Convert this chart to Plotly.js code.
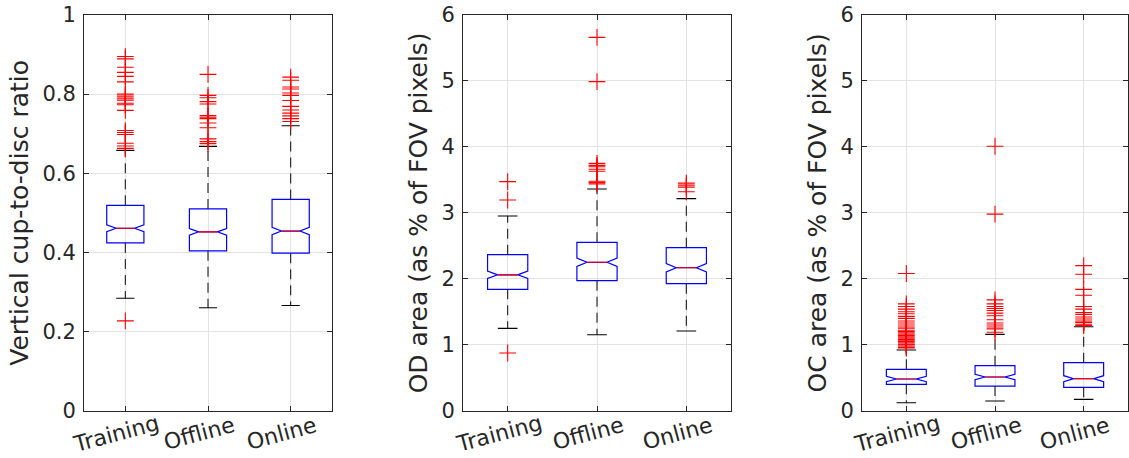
<!DOCTYPE html>
<html>
<head>
<meta charset="utf-8">
<script src="https://cdn.plot.ly/plotly-3.0.1.min.js"></script>
<style>html,body{margin:0;padding:0;background:#fff;}#chart{width:1129px;height:458px;}</style>
</head>
<body>
<div id="chart"></div>
<script>
// ---------- DATA ----------
const categories = ['Training', 'Offline', 'Online'];
const positions = [1, 2, 3];

// Panel 1: vertical cup-to-disc ratio
const cdrQ1 = [0.424, 0.404, 0.398];
const cdrMedian = [0.461, 0.452, 0.454];
const cdrQ3 = [0.519, 0.510, 0.534];
const cdrLowerWhisker = [0.284, 0.260, 0.266];
const cdrUpperWhisker = [0.658, 0.668, 0.720];
const cdrNotch = [0.0085, 0.0085, 0.0093];
const cdrOutTraining = [0.895, 0.889, 0.868, 0.855, 0.845, 0.831, 0.800, 0.795, 0.790, 0.785, 0.777, 0.773, 0.759, 0.708, 0.703, 0.698, 0.676, 0.669, 0.663, 0.227];
const cdrOutOffline = [0.850, 0.797, 0.791, 0.781, 0.775, 0.746, 0.742, 0.738, 0.727, 0.715, 0.687, 0.680, 0.675];
const cdrOutOnline = [0.843, 0.835, 0.818, 0.813, 0.803, 0.797, 0.784, 0.769, 0.760, 0.752, 0.745, 0.738, 0.731];

// Panel 2: OD area
const odQ1 = [1.841, 1.971, 1.926];
const odMedian = [2.060, 2.250, 2.168];
const odQ3 = [2.366, 2.553, 2.472];
const odLowerWhisker = [1.249, 1.152, 1.208];
const odUpperWhisker = [2.952, 3.362, 3.215];
const odNotch = [0.056, 0.063, 0.063];
const odOutTraining = [3.473, 3.195, 0.875];
const odOutOffline = [5.66, 4.99, 3.75, 3.72, 3.70, 3.66, 3.63, 3.48, 3.46, 3.44];
const odOutOnline = [3.45, 3.42, 3.39, 3.32];

// Panel 3: OC area
const ocQ1 = [0.400, 0.374, 0.355];
const ocMedian = [0.481, 0.511, 0.486];
const ocQ3 = [0.627, 0.683, 0.728];
const ocLowerWhisker = [0.121, 0.147, 0.172];
const ocUpperWhisker = [0.920, 1.158, 1.274];
const ocNotch = [0.040, 0.040, 0.045];
const ocOutTraining = [2.08, 1.62, 1.58, 1.54, 1.50, 1.47, 1.43, 1.40, 1.36, 1.33, 1.30, 1.27, 1.25, 1.22, 1.20, 1.18, 1.16, 1.14, 1.12, 1.10, 1.08, 1.06, 1.05, 1.03, 1.01, 1.00, 0.98, 0.96, 0.95];
const ocOutOffline = [4.01, 2.98, 1.68, 1.62, 1.58, 1.55, 1.52, 1.48, 1.44, 1.38, 1.33, 1.30, 1.27, 1.24, 1.19];
const ocOutOnline = [2.20, 2.07, 1.84, 1.75, 1.58, 1.54, 1.49, 1.46, 1.42, 1.39, 1.36, 1.34, 1.31, 1.29];

const yTitles = ['Vertical cup-to-disc ratio', 'OD area (as % of FOV pixels)', 'OC area (as % of FOV pixels)'];

// ---------- BUILD ----------
const BOXW = 0.45, CAPW = 0.22, NOTCHW = 0.25;
const txtColor = '#262626';
const font = 'DejaVu Sans, Liberation Sans, sans-serif';

const panels = [
  {q1: cdrQ1, med: cdrMedian, q3: cdrQ3, lo: cdrLowerWhisker, up: cdrUpperWhisker, notch: cdrNotch, outs: [cdrOutTraining, cdrOutOffline, cdrOutOnline]},
  {q1: odQ1, med: odMedian, q3: odQ3, lo: odLowerWhisker, up: odUpperWhisker, notch: odNotch, outs: [odOutTraining, odOutOffline, odOutOnline]},
  {q1: ocQ1, med: ocMedian, q3: ocQ3, lo: ocLowerWhisker, up: ocUpperWhisker, notch: ocNotch, outs: [ocOutTraining, ocOutOffline, ocOutOnline]}
];

const traces = [];
panels.forEach((p, i) => {
  const xa = 'x' + (i === 0 ? '' : i + 1);
  const ya = 'y' + (i === 0 ? '' : i + 1);
  // whiskers (dashed)
  const wx = [], wy = [];
  positions.forEach((c, k) => {
    wx.push(c, c, null, c, c, null);
    wy.push(p.q3[k], p.up[k], null, p.q1[k], p.lo[k], null);
  });
  traces.push({type: 'scatter', mode: 'lines', x: wx, y: wy, xaxis: xa, yaxis: ya,
    line: {color: '#1a1a1a', width: 1.1, dash: '10px,6px'}, hoverinfo: 'skip'});
  // caps
  const cx = [], cy = [];
  positions.forEach((c, k) => {
    cx.push(c - CAPW / 2, c + CAPW / 2, null, c - CAPW / 2, c + CAPW / 2, null);
    cy.push(p.up[k], p.up[k], null, p.lo[k], p.lo[k], null);
  });
  traces.push({type: 'scatter', mode: 'lines', x: cx, y: cy, xaxis: xa, yaxis: ya,
    line: {color: '#000', width: 1.1}, hoverinfo: 'skip'});
  // notched box
  traces.push({type: 'box', x: positions, q1: p.q1, median: p.med, q3: p.q3,
    lowerfence: p.q1, upperfence: p.q3, notchspan: p.notch, notched: true, notchwidth: NOTCHW,
    width: BOXW, whiskerwidth: 0, boxpoints: false, xaxis: xa, yaxis: ya,
    line: {color: '#0000ff', width: 1.2}, fillcolor: 'rgba(0,0,0,0)'});
  // red median
  const mx = [], my = [];
  const inner = BOXW / 2 * (1 - 2 * NOTCHW);
  positions.forEach((c, k) => {
    mx.push(c - inner, c + inner, null);
    my.push(p.med[k], p.med[k], null);
  });
  traces.push({type: 'scatter', mode: 'lines', x: mx, y: my, xaxis: xa, yaxis: ya,
    line: {color: '#ff0000', width: 1.1}, hoverinfo: 'skip'});
  // outliers
  const ox = [], oy = [];
  p.outs.forEach((arr, k) => arr.forEach(v => { ox.push(positions[k]); oy.push(v); }));
  traces.push({type: 'scatter', mode: 'markers', x: ox, y: oy, xaxis: xa, yaxis: ya,
    marker: {symbol: 'cross-thin', size: 12, color: '#ff0000', line: {color: '#ff0000', width: 1.1}}});
});

const xDomains = [[84 / 1129, 332 / 1129], [463 / 1129, 731 / 1129], [862 / 1129, 1128 / 1129]];
const yDomain = [1 - 410.7 / 458, 1 - 15 / 458];
const yRanges = [[0, 1], [0, 6], [0, 6]];
const yDticks = [0.2, 1, 1];

const layout = {
  width: 1129, height: 458,
  margin: {l: 0, r: 0, t: 0, b: 0},
  paper_bgcolor: '#fff', plot_bgcolor: '#fff',
  showlegend: false,
  font: {family: font, color: txtColor, size: 21},
  annotations: []
};

for (let i = 0; i < 3; i++) {
  const sfx = i === 0 ? '' : String(i + 1);
  layout['xaxis' + sfx] = {
    domain: xDomains[i], anchor: 'y' + sfx, range: [0.5, 3.5],
    tickvals: positions, ticktext: categories, showticklabels: false,
    ticks: 'inside', ticklen: 5, tickcolor: txtColor, mirror: 'ticks',
    showline: true, linecolor: txtColor, linewidth: 1,
    showgrid: true, gridcolor: '#e3e3e3', gridwidth: 1, zeroline: false, fixedrange: true
  };
  layout['yaxis' + sfx] = {
    domain: yDomain, anchor: 'x' + sfx, range: yRanges[i], dtick: yDticks[i], tick0: 0,
    ticks: 'inside', ticklen: 5, tickcolor: txtColor, mirror: 'ticks',
    showline: true, linecolor: txtColor, linewidth: 1,
    showgrid: true, gridcolor: '#e3e3e3', gridwidth: 1, zeroline: false, fixedrange: true,
    tickfont: {size: 21, color: txtColor, family: font}, ticklabelstandoff: 3,
    title: {text: yTitles[i], font: {size: 25, color: txtColor, family: font}, standoff: 6}
  };
  categories.forEach((c, k) => {
    layout.annotations.push({
      text: c, x: positions[k], xref: 'x' + sfx, y: 1 - 433 / 458, yref: 'paper',
      xanchor: 'center', yanchor: 'middle', textangle: -15, showarrow: false, xshift: -9,
      font: {size: 22, color: txtColor, family: font}
    });
  });
}

Plotly.newPlot('chart', traces, layout, {staticPlot: true, displayModeBar: false});
</script>
</body>
</html>
